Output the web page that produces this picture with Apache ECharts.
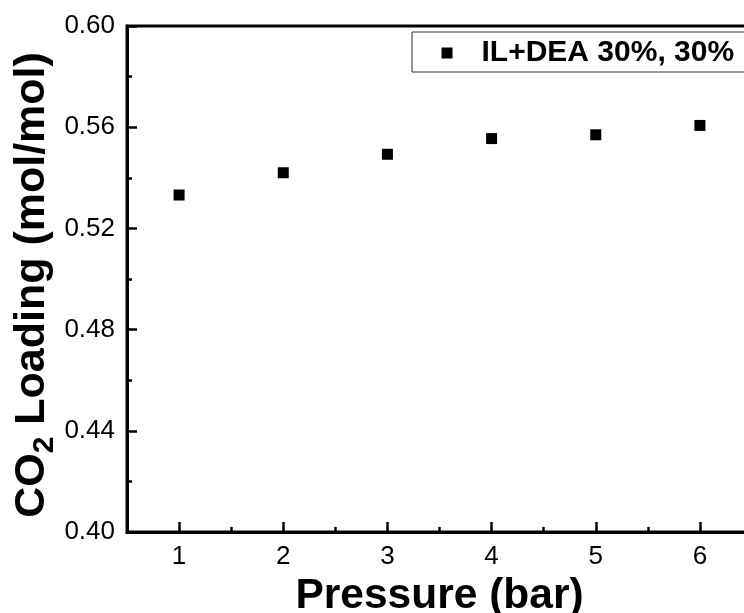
<!DOCTYPE html>
<html>
<head>
<meta charset="utf-8">
<title>CO2 Loading vs Pressure</title>
<script src="https://cdn.jsdelivr.net/npm/echarts@6/dist/echarts.min.js"></script>
<style>
    html, body { margin: 0; padding: 0; background: #fff; }
    #main { width: 744px; height: 613px; }
</style>
</head>
<body>
<div id="main"></div>
<script>
// 数据
var seriesName = 'IL+DEA 30%, 30%';
var pressure = [1, 2, 3, 4, 5, 6];
var loading = [0.5332, 0.5420, 0.5493, 0.5555, 0.5570, 0.5607];
var xTicks = [1, 2, 3, 4, 5, 6];
var xMinorTicks = [1.5, 2.5, 3.5, 4.5, 5.5];

var fontName = "'Liberation Sans', Arial, sans-serif";

var points = pressure.map(function (p, i) {
    return [p, loading[i]];
});

var chart = echarts.init(document.getElementById('main'), null, { renderer: 'canvas' });

var option = {
    backgroundColor: '#ffffff',
    animation: false,
    textStyle: { fontFamily: fontName, color: '#000' },
    grid: {
        left: 127,
        right: -8,
        top: 26,
        bottom: 81,
        outerBoundsMode: 'none',
        containLabel: false,
        show: true,
        borderColor: '#000',
        borderWidth: 3,
        backgroundColor: 'transparent'
    },
    legend: {
        data: [seriesName],
        left: 412,
        top: 32,
        orient: 'horizontal',
        borderColor: '#333',
        borderWidth: 1,
        backgroundColor: '#fff',
        padding: [6, 40, 4, 29.5],
        itemWidth: 11,
        itemHeight: 11,
        icon: 'rect',
        itemStyle: { color: '#000', opacity: 1 },
        textStyle: {
            fontFamily: fontName,
            fontSize: 30,
            fontWeight: 'bold',
            color: '#000',
            padding: [0, 0, 0, 24]
        }
    },
    xAxis: [{
        type: 'value',
        min: 0.5,
        max: 6.5,
        name: 'Pressure (bar)',
        nameLocation: 'middle',
        nameGap: 43,
        nameMoveOverlap: false,
        nameTextStyle: {
            fontFamily: fontName,
            fontSize: 42.5,
            fontWeight: 'bold',
            color: '#000'
        },
        axisLine: { lineStyle: { color: '#000', width: 3 } },
        axisTick: {
            inside: true,
            length: 10,
            customValues: xTicks,
            lineStyle: { color: '#000', width: 2.5 }
        },
        axisLabel: {
            customValues: xTicks,
            margin: 12,
            fontFamily: fontName,
            fontSize: 26,
            color: '#000'
        },
        splitLine: { show: false }
    }, {
        type: 'value',
        min: 0.5,
        max: 6.5,
        position: 'bottom',
        gridIndex: 0,
        axisLine: { show: false },
        axisTick: {
            inside: true,
            length: 5,
            customValues: xMinorTicks,
            lineStyle: { color: '#000', width: 2.5 }
        },
        axisLabel: { show: false },
        splitLine: { show: false }
    }],
    yAxis: {
        type: 'value',
        min: 0.40,
        max: 0.60,
        interval: 0.04,
        name: '{b|CO}{sub|2}{b| Loading (mol/mol)}',
        nameLocation: 'middle',
        nameGap: 67,
        nameMoveOverlap: false,
        nameTextStyle: {
            fontFamily: fontName,
            color: '#000',
            padding: [0, 12, 0, 0],
            rich: {
                b: {
                    fontFamily: fontName,
                    fontSize: 43,
                    fontWeight: 'bold',
                    color: '#000',
                    verticalAlign: 'top'
                },
                sub: {
                    fontFamily: fontName,
                    fontSize: 30,
                    fontWeight: 'bold',
                    color: '#000',
                    verticalAlign: 'top',
                    padding: [19, 0, 0, 0]
                }
            }
        },
        axisLine: { show: true, lineStyle: { color: '#000', width: 3 } },
        axisTick: {
            inside: true,
            length: 10,
            lineStyle: { color: '#000', width: 2.5 }
        },
        minorTick: {
            show: true,
            splitNumber: 2,
            length: 5,
            lineStyle: { color: '#000', width: 2.5 }
        },
        axisLabel: {
            margin: 12,
            fontFamily: fontName,
            fontSize: 26,
            color: '#000',
            formatter: function (v) {
                return v.toFixed(2);
            }
        },
        splitLine: { show: false },
        minorSplitLine: { show: false }
    },
    series: [{
        name: seriesName,
        type: 'scatter',
        xAxisIndex: 0,
        symbol: 'rect',
        symbolSize: 11,
        itemStyle: { color: '#000', opacity: 1 },
        data: points
    }]
};

chart.setOption(option);
</script>
</body>
</html>
